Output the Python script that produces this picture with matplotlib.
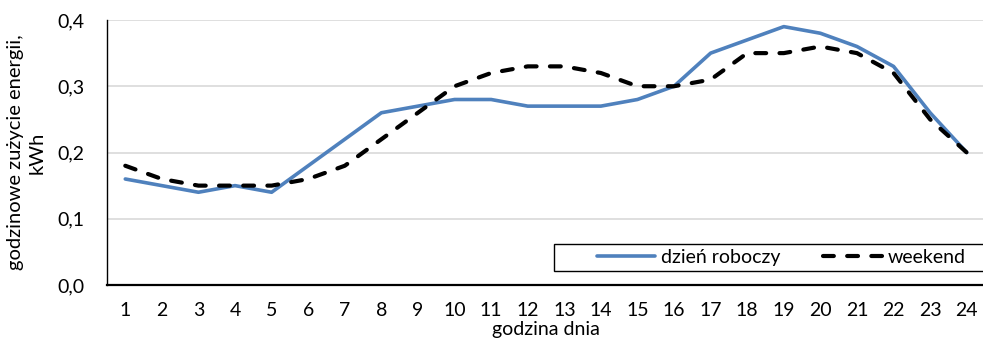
import numpy as np
import matplotlib.pyplot as plt
from matplotlib.patches import Rectangle

# hourly energy use, kWh
hours = np.arange(1, 25)
workday = [0.16, 0.15, 0.14, 0.15, 0.14, 0.18, 0.22, 0.26, 0.27, 0.28, 0.28, 0.27,
           0.27, 0.27, 0.28, 0.30, 0.35, 0.37, 0.39, 0.38, 0.36, 0.33, 0.26, 0.20]
weekend = [0.18, 0.16, 0.15, 0.15, 0.15, 0.16, 0.18, 0.22, 0.26, 0.30, 0.32, 0.33,
           0.33, 0.32, 0.30, 0.30, 0.31, 0.35, 0.35, 0.36, 0.35, 0.32, 0.25, 0.20]
yticks = [0.0, 0.1, 0.2, 0.3, 0.4]

plt.rcParams['font.family'] = ['Lato', 'DejaVu Sans']
plt.rcParams['font.size'] = 14

fig = plt.figure(figsize=(9.83, 3.43), dpi=100)
ax = fig.add_axes([107/983, 1 - 285/343, 878/983, 265/343])

ax.plot(hours, workday, color='#4F81BD', lw=2.6, label='dzień roboczy', solid_capstyle='round')
ax.plot(hours, weekend, color='black', lw=3.0, label='weekend',
        dashes=(2.6, 3.2), dash_capstyle='round')

ax.set_xlim(0.5, 24.5)
ax.set_ylim(0, 0.4)
ax.set_xticks(hours)
ax.set_yticks(yticks)
ax.set_yticklabels([f'{v:.1f}'.replace('.', ',') for v in yticks])
ax.tick_params(axis='x', length=0, pad=12)
ax.tick_params(axis='y', length=0, pad=16)
ax.grid(axis='y', color='#d9d9d9', lw=1.2)
ax.set_axisbelow(True)

for s in ['top', 'right']:
    ax.spines[s].set_visible(False)
ax.spines['left'].set_linewidth(1.0)
ax.spines['bottom'].set_linewidth(1.6)

ax.set_xlabel('godzina dnia', labelpad=2)
ax.set_ylabel('godzinowe zużycie energii,\nkWh', linespacing=1.3, labelpad=9, fontsize=14.5)

# legend box
ax.add_patch(Rectangle((554/983, 1 - 271/343), 440/983, 27/343,
                       transform=fig.transFigure, facecolor='white',
                       edgecolor='black', lw=1.0, zorder=4, clip_on=False))
leg = ax.legend(loc='center left', ncol=2, bbox_to_anchor=(597/983, 1 - 257.5/343),
                bbox_transform=fig.transFigure, frameon=False, handlelength=3.0,
                handletextpad=0.3, columnspacing=2.2, borderpad=0, borderaxespad=0)
leg.set_zorder(6)

fig.savefig('out.png', dpi=100)
